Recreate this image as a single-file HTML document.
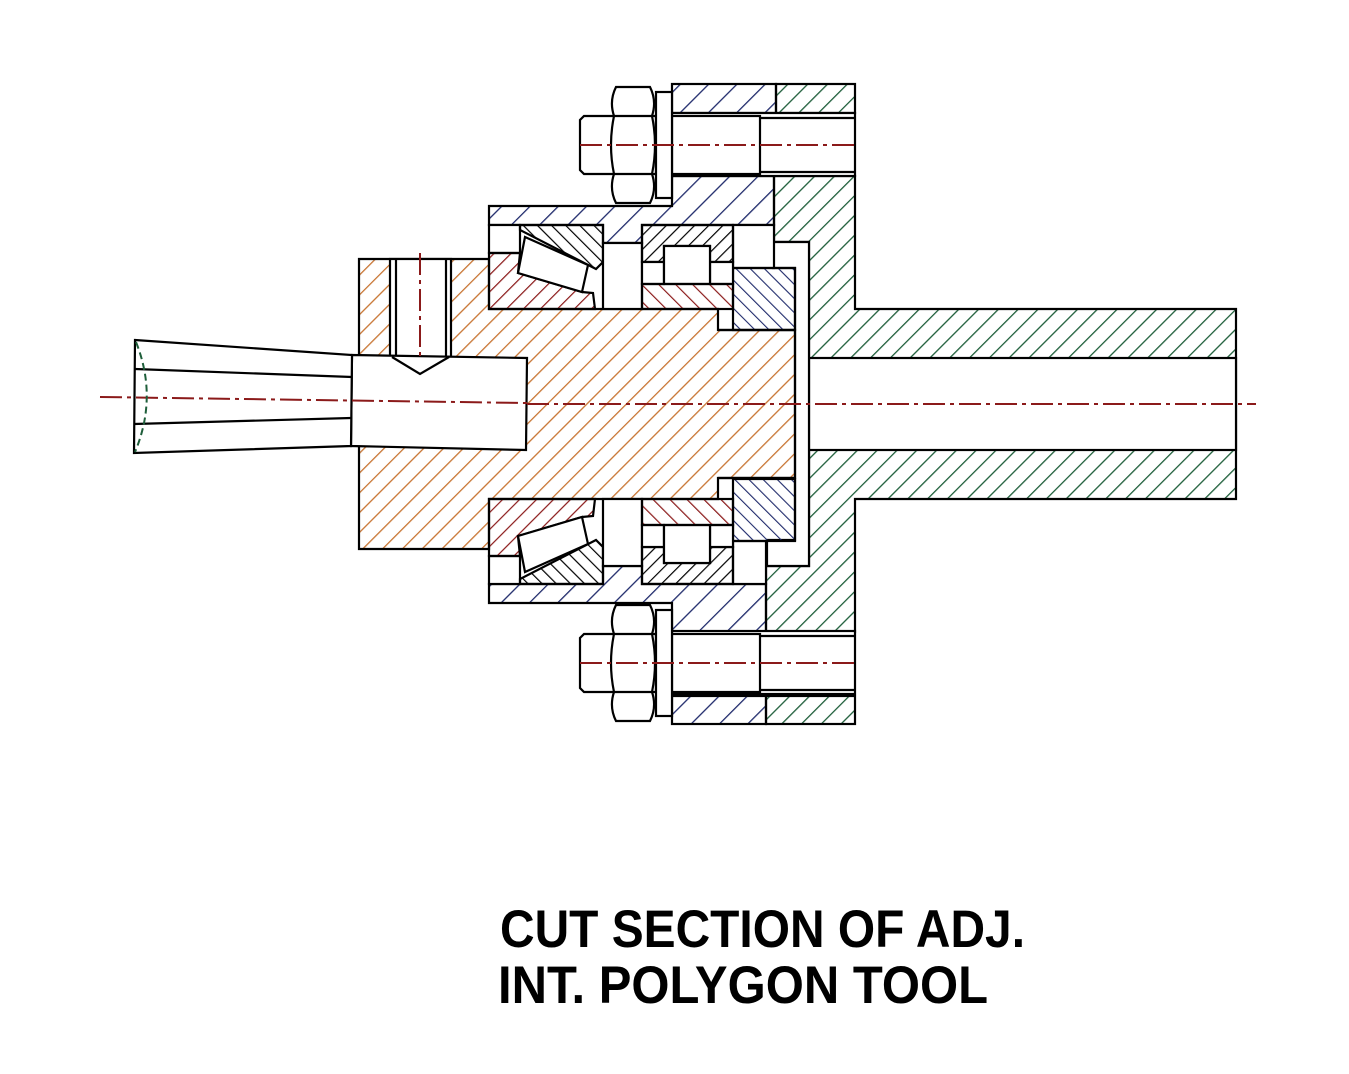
<!DOCTYPE html>
<html><head><meta charset="utf-8"><style>html,body{margin:0;padding:0;background:#fff}svg{display:block}</style></head>
<body>
<svg width="1349" height="1074" viewBox="0 0 1349 1074" xmlns="http://www.w3.org/2000/svg">
<defs>
<pattern id="ho" patternUnits="userSpaceOnUse" width="14" height="14" patternTransform="rotate(45)"><line x1="0" y1="0" x2="0" y2="14" stroke="#c87533" stroke-width="2.6"/></pattern>
<pattern id="hg" patternUnits="userSpaceOnUse" width="14" height="14" patternTransform="rotate(45)"><line x1="0" y1="0" x2="0" y2="14" stroke="#1e5e3a" stroke-width="2.6"/></pattern>
<pattern id="hb" patternUnits="userSpaceOnUse" width="20" height="20" patternTransform="rotate(45)"><line x1="0" y1="0" x2="0" y2="20" stroke="#1f2a6b" stroke-width="2.6"/></pattern>
<pattern id="hb2" patternUnits="userSpaceOnUse" width="10" height="10" patternTransform="rotate(-45)"><line x1="0" y1="0" x2="0" y2="10" stroke="#1f2a6b" stroke-width="2.2"/></pattern>
<pattern id="hr" patternUnits="userSpaceOnUse" width="12" height="12" patternTransform="rotate(45)"><line x1="0" y1="0" x2="0" y2="12" stroke="#8b1a1a" stroke-width="2.4"/></pattern>
<pattern id="hr2" patternUnits="userSpaceOnUse" width="12" height="12" patternTransform="rotate(-45)"><line x1="0" y1="0" x2="0" y2="12" stroke="#8b1a1a" stroke-width="2.4"/></pattern>
<pattern id="hk" patternUnits="userSpaceOnUse" width="10" height="10" patternTransform="rotate(-45)"><line x1="0" y1="0" x2="0" y2="10" stroke="#000" stroke-width="2.4"/></pattern>
<pattern id="hk2" patternUnits="userSpaceOnUse" width="10" height="10" patternTransform="rotate(45)"><line x1="0" y1="0" x2="0" y2="10" stroke="#000" stroke-width="2.4"/></pattern>
</defs>
<g stroke="#000" stroke-width="2.2" stroke-linejoin="miter">
<rect x="776" y="84" width="79" height="29" fill="url(#hg)"/>
<rect x="766" y="696" width="89" height="28" fill="url(#hg)"/>
<polygon fill="url(#hg)" points="774,176 855,176 855,309 1236,309 1236,499 855,499 855,632 766,632 766,566 809,566 809,242 774,242"/>
<rect x="809" y="358" width="427" height="92" fill="#fff"/>
<rect x="672" y="84" width="104" height="29" fill="url(#hb)"/>
<rect x="672" y="696" width="94" height="28" fill="url(#hb)"/>
<polygon fill="url(#hb)" points="489,206 672,206 672,176 774,176 774,225 642,225 642,243 603,243 603,225 489,225"/>
<polygon fill="url(#hb)" points="489,603 672,603 672,632 766,632 766,584 642,584 642,566 603,566 603,584 489,584"/>
<polygon fill="#fff" points="773,242 809,242 809,566 767,566 767,540 795,540 795,268 773,268"/>
<rect x="733" y="225" width="41" height="43" fill="#fff"/>
<rect x="733" y="541" width="33" height="43" fill="#fff"/>
<polygon fill="url(#ho)" points="359,259 489,259 489,309 718,309 718,330 795,330 795,478 718,478 718,499 489,499 489,549 359,549"/>
<rect x="390" y="259" width="61" height="98" fill="#fff"/>
<line x1="396" y1="259" x2="396" y2="357"/><line x1="446" y1="259" x2="446" y2="357"/>
<polygon fill="#fff" points="352,355 527,358 526,450 351,446"/>
<polyline fill="none" points="392,357 420,374 449,357"/>
<polygon fill="#fff" points="135,340 352,355 351,446 134,453"/>
<line x1="135" y1="369" x2="352" y2="377"/><line x1="134" y1="424" x2="351" y2="418"/>
<rect x="733" y="268" width="62" height="62" fill="url(#hb2)"/>
<rect x="733" y="479" width="62" height="62" fill="url(#hb2)"/>
<line x1="718" y1="330" x2="795" y2="330"/><line x1="718" y1="478" x2="795" y2="478"/>
<rect x="489" y="225" width="31" height="28" fill="#fff"/>
<polygon fill="url(#hr)" points="489,253 520,253 518,273 582,292 593,293 595,309 489,309"/>
<polygon fill="url(#hk)" points="520,225 603,225 603,262 596,269 520,230"/>
<polygon fill="#fff" points="525,237 588,265 582,292 518,273"/>
<rect x="603" y="243" width="39" height="66" fill="#fff"/>
<polygon fill="url(#hk2)" points="642,225 733,225 733,262 710,262 710,246 664,246 664,262 642,262"/>
<rect x="642" y="262" width="22" height="22" fill="#fff"/><rect x="710" y="262" width="23" height="22" fill="#fff"/>
<rect x="664" y="246" width="46" height="38" fill="#fff"/>
<rect x="642" y="284" width="91" height="25" fill="url(#hr2)"/>
<rect x="489" y="556" width="31" height="28" fill="#fff"/>
<polygon fill="url(#hr)" points="489,556 520,556 518,536 582,517 593,516 595,499 489,499"/>
<polygon fill="url(#hk)" points="520,584 603,584 603,547 596,540 520,579"/>
<polygon fill="#fff" points="525,572 588,544 582,517 518,536"/>
<rect x="603" y="499" width="39" height="67" fill="#fff"/>
<polygon fill="url(#hk2)" points="642,584 733,584 733,547 710,547 710,563 664,563 664,547 642,547"/>
<rect x="642" y="525" width="22" height="22" fill="#fff"/><rect x="710" y="525" width="23" height="22" fill="#fff"/>
<rect x="664" y="525" width="46" height="38" fill="#fff"/>
<rect x="642" y="499" width="91" height="26" fill="url(#hr2)"/>
<g>
<rect x="672" y="113" width="183" height="63" fill="#fff"/>
<line x1="672" y1="118" x2="855" y2="118"/><line x1="672" y1="172" x2="855" y2="172"/>
<rect x="672" y="116" width="88" height="58" fill="#fff"/>
<polygon fill="#fff" points="584,116 656,116 656,174 584,174 580,170 580,120"/>
<rect x="656" y="92" width="16" height="106" fill="#fff"/>
<path fill="#fff" d="M616,87 L650,87 Q657,101 652,116 Q658,145 652,174 Q657,189 650,203 L616,203 Q609,189 614,174 Q608,145 614,116 Q609,101 616,87 Z"/>
<line x1="614" y1="116" x2="652" y2="116"/><line x1="614" y1="174" x2="652" y2="174"/>
</g>
<g transform="translate(0,518)">
<rect x="672" y="113" width="183" height="63" fill="#fff"/>
<line x1="672" y1="118" x2="855" y2="118"/><line x1="672" y1="172" x2="855" y2="172"/>
<rect x="672" y="116" width="88" height="58" fill="#fff"/>
<polygon fill="#fff" points="584,116 656,116 656,174 584,174 580,170 580,120"/>
<rect x="656" y="92" width="16" height="106" fill="#fff"/>
<path fill="#fff" d="M616,87 L650,87 Q657,101 652,116 Q658,145 652,174 Q657,189 650,203 L616,203 Q609,189 614,174 Q608,145 614,116 Q609,101 616,87 Z"/>
<line x1="614" y1="116" x2="652" y2="116"/><line x1="614" y1="174" x2="652" y2="174"/>
</g>
</g>
<g stroke="#8b1a1a" stroke-width="2" fill="none" stroke-dasharray="22,5,4,5">
<line x1="100" y1="397" x2="527" y2="403"/>
<line x1="527" y1="404" x2="1256" y2="404"/>
<line x1="420" y1="253" x2="420" y2="356"/>
<line x1="580" y1="145" x2="855" y2="145"/>
<line x1="580" y1="663" x2="855" y2="663"/>
</g>
<path d="M136,342 Q158,397 135,452" fill="none" stroke="#1e5e3a" stroke-width="2" stroke-dasharray="7,4"/>
<g font-family="Liberation Sans, Arial, sans-serif" font-weight="bold" font-size="53" fill="#000">
<text x="500" y="947" textLength="525" lengthAdjust="spacingAndGlyphs">CUT SECTION OF ADJ.</text>
<text x="498" y="1003" textLength="490" lengthAdjust="spacingAndGlyphs">INT. POLYGON TOOL</text>
</g>
</svg>
</body></html>
